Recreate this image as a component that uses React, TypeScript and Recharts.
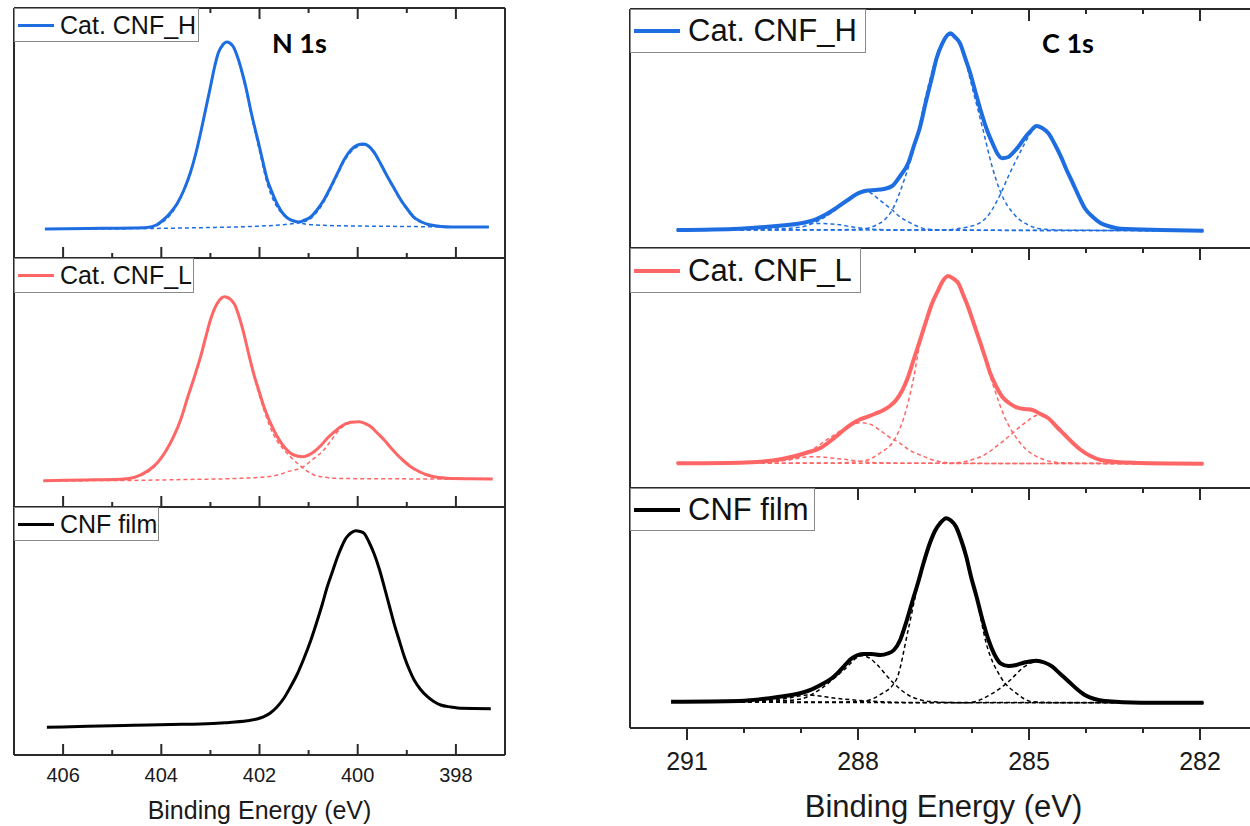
import React from 'react'
import { LineChart, Line, XAxis, YAxis, Legend, ReferenceLine, ReferenceArea } from 'recharts'

type Pt = [number, number]

// axis ticks (binding energy, eV)
const n1sTicks = [406, 405, 404, 403, 402, 401, 400, 399, 398]
const n1sMajor = [406, 404, 402, 400, 398]
const c1sTicks = [291, 290, 289, 288, 287, 286, 285, 284, 283, 282]
const c1sMajor = [291, 288, 285, 282]

// ---- N 1s, Cat. CNF_H ----
const n1sHTotal: Pt[] = [
  [406.37, 29], [405.5, 29.5], [404.6, 30], [404.29, 30.5], [404.1, 33], [403.96, 38], [403.8, 46],
  [403.67, 55], [403.54, 68], [403.41, 85], [403.3, 104], [403.2, 125], [403.1, 148], [403.0, 171],
  [402.92, 190], [402.84, 205], [402.75, 213], [402.67, 216], [402.6, 215], [402.53, 211], [402.44, 200],
  [402.35, 185], [402.26, 167], [402.18, 148], [402.09, 129], [402.0, 111], [401.92, 94], [401.84, 78],
  [401.73, 64], [401.63, 53], [401.53, 45], [401.43, 40], [401.3, 37], [401.2, 36], [401.08, 38],
  [400.96, 41], [400.83, 48], [400.69, 58], [400.55, 71], [400.41, 85], [400.28, 98], [400.14, 108],
  [400.0, 113], [399.88, 114], [399.78, 112], [399.67, 106], [399.53, 94], [399.39, 81], [399.25, 69],
  [399.12, 58], [398.99, 49], [398.86, 41], [398.7, 36], [398.51, 33], [398.3, 31.5], [398.1, 31],
  [397.7, 31], [397.33, 31],
]
const n1sHPeak1: Pt[] = [
  [406.37, 29], [404.3, 30], [404.0, 35], [403.8, 44], [403.67, 54], [403.41, 84], [403.2, 124],
  [403.0, 170], [402.84, 204], [402.67, 215], [402.53, 210], [402.35, 183], [402.18, 146], [402.0, 107],
  [401.84, 74], [401.7, 56], [401.55, 45], [401.4, 39], [401.2, 35.3], [401.0, 33.5], [400.6, 32.5],
  [400.0, 32], [399.0, 31.5], [398.0, 31], [397.33, 31],
]
const n1sHPeak2: Pt[] = [
  [406.37, 29], [404.3, 29.5], [403.0, 30.5], [402.2, 31.5], [401.6, 33], [401.2, 35.3], [401.0, 38],
  [400.83, 46], [400.69, 56], [400.55, 69], [400.41, 83], [400.28, 96], [400.14, 106], [400.0, 111.5],
  [399.88, 113], [399.78, 111], [399.67, 105], [399.53, 93], [399.39, 80], [399.25, 68], [399.12, 57],
  [398.99, 48], [398.86, 40], [398.7, 35.5], [398.51, 32.5], [398.1, 31], [397.33, 31],
]

// ---- N 1s, Cat. CNF_L ----
const n1sLTotal: Pt[] = [
  [406.4, 26.3], [405.6, 27], [404.84, 27.7], [404.6, 29], [404.43, 32], [404.25, 37], [404.09, 43.7],
  [403.92, 55], [403.75, 70.3], [403.6, 88], [403.48, 107], [403.34, 128], [403.2, 150.3], [403.1, 169],
  [403.0, 187], [402.86, 203.7], [402.71, 210.3], [402.52, 203.7], [402.42, 191], [402.32, 173.7],
  [402.22, 153], [402.12, 133.7], [402.01, 116], [401.91, 100.3], [401.71, 77], [401.5, 60.3],
  [401.3, 52], [401.13, 50.3], [400.89, 55.3], [400.75, 61.5], [400.62, 68.7], [400.48, 75],
  [400.35, 80.3], [400.14, 84.7], [399.97, 85.3], [399.85, 83.5], [399.73, 80.3], [399.6, 74],
  [399.46, 67], [399.32, 59], [399.19, 52], [399.05, 45.5], [398.92, 40.3], [398.75, 35.5],
  [398.58, 32], [398.17, 28.7], [397.7, 28.2], [397.25, 28],
]
const n1sLPeak1: Pt[] = [
  [406.4, 26.3], [404.84, 27.3], [404.43, 31], [404.09, 43], [403.75, 70], [403.48, 106.5], [403.2, 150],
  [403.0, 186.5], [402.86, 203], [402.71, 209.5], [402.52, 203], [402.32, 173], [402.12, 132],
  [401.91, 97], [401.71, 72], [401.5, 57], [401.3, 47], [401.13, 39.7], [400.89, 32], [400.7, 30],
  [400.48, 28.7], [399.5, 28.2], [397.25, 28],
]
const n1sLPeak2: Pt[] = [
  [406.4, 26.3], [404.84, 26.5], [403.5, 27.5], [402.5, 28.5], [401.84, 30.3], [401.6, 32.5],
  [401.43, 35.3], [401.13, 39.7], [400.89, 48.7], [400.69, 57], [400.55, 66], [400.35, 78.5],
  [400.14, 84], [399.97, 85], [399.73, 80], [399.46, 66.5], [399.19, 51.5], [398.92, 40],
  [398.75, 35], [398.58, 31.5], [398.17, 28.5], [397.25, 28],
]

// ---- N 1s, CNF film ----
const n1sFilmTotal: Pt[] = [
  [406.33, 27.7], [405.5, 28.7], [404.57, 29.7], [403.8, 30.5], [403.2, 31], [402.7, 32.3], [402.25, 34.3],
  [402.05, 36], [401.91, 38.3], [401.78, 42], [401.64, 48.3], [401.5, 57], [401.37, 68], [401.23, 81],
  [401.1, 96], [400.96, 114], [400.82, 135], [400.72, 151], [400.62, 168.3], [400.51, 184],
  [400.41, 198.3], [400.32, 209], [400.24, 216.7], [400.14, 222], [400.04, 224.3], [399.95, 223.5],
  [399.87, 221.7], [399.77, 213], [399.67, 201.7], [399.56, 186], [399.46, 168.3], [399.36, 150],
  [399.26, 131.7], [399.15, 114], [399.05, 98.3], [398.95, 85.5], [398.85, 75], [398.72, 65.5],
  [398.58, 58.3], [398.45, 53.5], [398.31, 50], [398.1, 48], [397.9, 46.7], [397.29, 46.3],
]

// ---- C 1s, Cat. CNF_H ----
const c1sHTotal: Pt[] = [
  [291.18, 18], [290.08, 19.3], [289.38, 22.3], [289.03, 24.5], [288.74, 28.7], [288.55, 34],
  [288.39, 39.7], [288.18, 48], [287.97, 55.3], [287.83, 57.5], [287.69, 58], [287.55, 59], [287.4, 62],
  [287.26, 72], [287.12, 84.7], [287.02, 102], [286.91, 121.3], [286.81, 146], [286.7, 171.3],
  [286.62, 190], [286.52, 204.7], [286.38, 214.7], [286.3, 211], [286.21, 204.7], [286.12, 190],
  [286.03, 174.7], [285.94, 156], [285.85, 138], [285.75, 120], [285.64, 104.7], [285.55, 94],
  [285.47, 89.7], [285.36, 91], [285.29, 94.7], [285.15, 104], [285.08, 109.7], [284.97, 117],
  [284.87, 122], [284.77, 120], [284.66, 114.7], [284.55, 104], [284.44, 91.3], [284.34, 78],
  [284.23, 64.7], [284.12, 51], [284.02, 39.7], [283.88, 31], [283.74, 24.7], [283.55, 21],
  [283.39, 19.3], [282.68, 18], [281.94, 17.3],
]
const c1sHPeakA: Pt[] = [
  [291.18, 18], [290.08, 18.7], [289.38, 21.3], [288.89, 24.7], [288.46, 24], [287.97, 20], [287.4, 18],
  [281.94, 17.3],
]
const c1sHPeakB: Pt[] = [
  [291.18, 18], [289.5, 19], [289.03, 20.7], [288.67, 28], [288.32, 41.3], [288.11, 50.5], [287.97, 54.7],
  [287.86, 57.3], [287.75, 54], [287.62, 48], [287.4, 38], [287.26, 31], [287.12, 26.3], [286.95, 21.5],
  [286.77, 18.7], [286.4, 18], [281.94, 17.3],
]
const c1sHPeakC: Pt[] = [
  [291.18, 18], [288.5, 18.2], [287.97, 18.7], [287.62, 24.7], [287.4, 38], [287.19, 68], [286.98, 108],
  [286.77, 161.3], [286.56, 201.3], [286.38, 213], [286.17, 198], [286.0, 161.3], [285.82, 121.3],
  [285.64, 80], [285.5, 56], [285.25, 33], [285.01, 23], [284.73, 18.7], [284.3, 17.8], [281.94, 17.3],
]
const c1sHPeakD: Pt[] = [
  [291.18, 18], [286.56, 18], [286.0, 22], [285.71, 33], [285.5, 54], [285.36, 72], [285.25, 85],
  [285.08, 104], [284.97, 115], [284.87, 121], [284.77, 119.5], [284.66, 114.5], [284.44, 91],
  [284.23, 64.5], [284.02, 39.5], [283.74, 24.7], [283.39, 19.3], [282.68, 18], [281.94, 17.3],
]

// ---- C 1s, Cat. CNF_L ----
const c1sLTotal: Pt[] = [
  [291.18, 24.7], [290.08, 25.3], [289.5, 27.5], [289.1, 32], [288.89, 35.5], [288.67, 39.7], [288.53, 45],
  [288.39, 51.3], [288.25, 58], [288.11, 64], [287.97, 68.5], [287.83, 71.3], [287.69, 74.5],
  [287.55, 78], [287.44, 82], [287.33, 88], [287.22, 98], [287.12, 111.3], [287.02, 129], [286.91, 148],
  [286.81, 166], [286.7, 184.7], [286.6, 197], [286.52, 206.3], [286.42, 212], [286.33, 209.5],
  [286.24, 204.7], [286.16, 194], [286.07, 181.3], [285.96, 163], [285.85, 144.7], [285.76, 129],
  [285.68, 114.7], [285.57, 101], [285.47, 91.3], [285.35, 85], [285.22, 80.7], [285.08, 79],
  [284.94, 78], [284.8, 74], [284.66, 69.7], [284.52, 61.5], [284.37, 53], [284.23, 45], [284.09, 38],
  [283.92, 32], [283.74, 28], [283.45, 26], [283.18, 25.3], [282.5, 24.5], [281.94, 24.3],
]
const c1sLPeakA: Pt[] = [
  [291.18, 24.7], [290.08, 24.7], [289.24, 28], [288.81, 31.3], [288.25, 28.7], [287.69, 25.3],
  [287.0, 24.7], [281.94, 24.3],
]
const c1sLPeakB: Pt[] = [
  [291.18, 24.7], [289.73, 25.3], [289.1, 29.7], [288.81, 38], [288.5, 50], [288.2, 60.5], [287.97, 65.3],
  [287.8, 64], [287.62, 58], [287.45, 51], [287.26, 44.7], [287.1, 38], [286.91, 33], [286.56, 26.3],
  [286.21, 24.7], [281.94, 24.3],
]
const c1sLPeakC: Pt[] = [
  [291.18, 24.7], [288.5, 25], [287.97, 26.3], [287.62, 34.7], [287.33, 51.3], [287.19, 71.3],
  [287.02, 111.3], [286.91, 146], [286.7, 184], [286.52, 205.5], [286.42, 211.5], [286.24, 204],
  [286.07, 180.5], [285.85, 144], [285.64, 104.7], [285.43, 71.3], [285.15, 44.7], [284.8, 29.7],
  [284.44, 25.3], [283.5, 24.5], [281.94, 24.3],
]
const c1sLPeakD: Pt[] = [
  [291.18, 24.7], [286.42, 24.7], [285.85, 31.3], [285.43, 48], [285.08, 64.7], [284.83, 73],
  [284.66, 69.7], [284.37, 53], [284.09, 38], [283.74, 28], [283.18, 25.3], [281.94, 24.3],
]

// ---- C 1s, CNF film ----
const c1sFilmTotal: Pt[] = [
  [291.28, 26.3], [290.08, 27], [289.38, 31.3], [289.0, 35], [288.81, 38.7], [288.64, 43.5], [288.46, 49.7],
  [288.29, 59], [288.11, 69.7], [287.9, 74], [287.76, 74], [287.61, 73], [287.48, 74.5], [287.37, 78],
  [287.26, 88], [287.16, 104.7], [287.06, 124], [286.95, 144.7], [286.85, 165], [286.74, 184.7],
  [286.65, 197], [286.56, 204.7], [286.45, 209.7], [286.37, 207.5], [286.28, 201.3], [286.19, 188],
  [286.1, 171.3], [286.02, 152], [285.92, 131.3], [285.82, 109], [285.71, 88], [285.61, 74],
  [285.5, 64.7], [285.36, 62], [285.22, 63], [285.08, 65.5], [284.87, 67.3], [284.73, 65.5],
  [284.59, 61.3], [284.45, 54], [284.3, 46.3], [284.16, 39], [284.02, 33], [283.85, 29], [283.67, 27],
  [283.03, 25.3], [281.94, 25.3],
]
const c1sFilmPeakA: Pt[] = [
  [291.28, 26], [290.08, 26], [289.24, 29.7], [288.89, 33], [288.39, 29.7], [287.83, 27], [287.0, 25.5],
  [281.94, 25.3],
]
const c1sFilmPeakB: Pt[] = [
  [291.28, 26], [289.5, 27], [289.03, 28.7], [288.6, 41.3], [288.25, 58], [287.93, 72.3], [287.8, 70],
  [287.69, 64.7], [287.4, 46.3], [287.12, 33], [286.7, 26.3], [286.21, 25.3], [281.94, 25.3],
]
const c1sFilmPeakC: Pt[] = [
  [291.28, 26], [288.5, 26], [287.97, 26.3], [287.62, 33], [287.33, 48], [287.12, 98], [286.95, 143],
  [286.74, 184], [286.56, 204], [286.45, 209], [286.28, 200.5], [286.1, 170.5], [285.92, 130],
  [285.75, 84.7], [285.5, 51.3], [285.22, 34.7], [284.94, 26.3], [284.5, 25.5], [281.94, 25.3],
]
const c1sFilmPeakD: Pt[] = [
  [291.28, 26], [286.07, 25.3], [285.64, 34.7], [285.36, 46.3], [285.08, 61.3], [284.87, 66.3],
  [284.59, 61], [284.3, 46], [284.02, 33], [283.67, 27], [283.03, 25.3], [281.94, 25.3],
]

const BLUE = '#1e6ee1'
const RED = '#ff6666'
const BLACK = '#000000'
const FRAME = '#2a2a2a'
const FONT = '"Liberation Sans", Arial, sans-serif'

const rows = (pts: Pt[]) => pts.map(([e, v]) => ({ e, v }))

interface Side {
  domain: [number, number]
  ticks: number[]
  major: number[]
  majorLen: number
  minorLen: number
  halfTick: number // half tick width, in eV
  labelSize: number
  labelDy: number
  lineW: number
  legendFont: number
  legendLine: number
  legendLineT: number
  legendGap: number
}

const leftSide: Side = {
  domain: [397, 407], ticks: n1sTicks, major: n1sMajor, majorLen: 11, minorLen: 5, halfTick: 0.02,
  labelSize: 20, labelDy: 27, lineW: 3,
  legendFont: 25, legendLine: 36, legendLineT: 3, legendGap: 6,
}
const rightSide: Side = {
  domain: [281, 292], ticks: c1sTicks, major: c1sMajor, majorLen: 12, minorLen: 5, halfTick: 0.0175,
  labelSize: 25, labelDy: 42, lineW: 4,
  legendFont: 31, legendLine: 46, legendLineT: 4, legendGap: 8,
}

interface PanelProps {
  side: Side
  left: number
  top: number
  width: number
  plotH: number
  color: string
  name: string
  total: Pt[]
  peaks: Pt[][]
  topTicks?: boolean // ticks hanging down from the top edge
  bottomTicks?: boolean // ticks standing up on the bottom edge
  outTicks?: boolean // ticks hanging below the bottom edge
  axisH?: number // >0: visible bottom axis with labels
  title?: string
  titleSize?: number
  titleDy?: number
  legendW: number
  legendH: number
}

function Panel(p: PanelProps) {
  const s = p.side
  const axisH = p.axisH || 0
  const len = (t: number) => (s.major.includes(t) ? s.majorLen : s.minorLen)
  const frame = { stroke: FRAME, strokeWidth: 2 }

  // inside ticks: short two-point series on the energy scale
  const tickLine = (key: string, t: number, v1: number, v2: number) => (
    <Line
      key={key} xAxisId="b" yAxisId="l" data={[{ e: t, v: v1 }, { e: t, v: v2 }]} dataKey="v"
      type="linear" legendType="none" stroke={FRAME} strokeWidth={2} dot={false} activeDot={false}
      isAnimationActive={false}
    />
  )
  // outside ticks (below the plot area)
  const tickArea = (key: string, t: number, y1: number, y2: number) => (
    <ReferenceArea
      key={key} xAxisId="b" yAxisId="l" x1={t - s.halfTick} x2={t + s.halfTick} y1={y1} y2={y2}
      fill={FRAME} fillOpacity={1} stroke="none" ifOverflow="visible"
    />
  )

  const axisLabel = (props: any) => {
    const { x, y, payload } = props
    if (!s.major.includes(payload.value)) return <g />
    return (
      <text x={x} y={y + s.labelDy} textAnchor="middle" fontFamily={FONT} fontSize={s.labelSize} fill="#1a1a1a">
        {payload.value}
      </text>
    )
  }

  const renderLegend = (lp: any) => {
    const item = (lp.payload || []).find((it: any) => it.type !== 'none') || { color: p.color, value: p.name }
    return (
      <div
        style={{
          width: p.legendW, height: p.legendH, boxSizing: 'border-box', border: '1px solid #8a8a8a',
          background: '#fff', display: 'flex', alignItems: 'center', paddingLeft: 3,
          fontFamily: FONT, fontSize: s.legendFont, color: '#111', whiteSpace: 'nowrap',
        }}
      >
        <span style={{ display: 'inline-block', width: s.legendLine, height: s.legendLineT, background: p.color, marginRight: s.legendGap }} />
        <span>{item.value}</span>
      </div>
    )
  }

  const titleLabel = (lp: any) => {
    const vb = lp.viewBox
    return (
      <text x={vb.x + vb.width / 2} y={vb.y + (p.titleDy || 0)} textAnchor="middle" fontFamily={FONT} fontSize={p.titleSize} fill="#1a1a1a">
        {p.title}
      </text>
    )
  }

  return (
    <div style={{ position: 'absolute', left: p.left - 1, top: p.top - 1 }}>
      <LineChart width={p.width + 2} height={p.plotH + axisH + 2} margin={{ top: 1, right: 1, bottom: 1, left: 1 }}>
        <XAxis
          xAxisId="b" type="number" dataKey="e" domain={s.domain} reversed allowDataOverflow
          hide={axisH === 0} ticks={s.ticks} interval={0} height={axisH || 1} tickSize={0} tickMargin={0}
          tick={axisLabel} tickLine={false} axisLine={frame}
          label={p.title ? titleLabel : undefined}
        />
        <YAxis yAxisId="l" type="number" domain={[0, p.plotH]} allowDataOverflow hide />
        <Legend
          layout="horizontal" verticalAlign="middle" align="center"
          wrapperStyle={{ left: 1, top: 1, width: 'auto', height: 'auto' }}
          content={renderLegend}
        />
        {/* frame */}
        <ReferenceLine xAxisId="b" yAxisId="l" y={0} {...frame} />
        <ReferenceLine xAxisId="b" yAxisId="l" y={p.plotH} {...frame} />
        <ReferenceLine xAxisId="b" yAxisId="l" x={s.domain[1]} {...frame} />
        <ReferenceLine xAxisId="b" yAxisId="l" x={s.domain[0]} {...frame} />
        {p.outTicks && s.ticks.map((t) => tickArea(`o${t}`, t, -len(t), 0))}
        <Line
          xAxisId="b" yAxisId="l" data={rows(p.total)} dataKey="v" name={p.name} type="monotone"
          stroke={p.color} strokeWidth={s.lineW} dot={false} activeDot={false} isAnimationActive={false}
        />
        {p.peaks.map((pk, i) => (
          <Line
            key={i} xAxisId="b" yAxisId="l" data={rows(pk)} dataKey="v" name={`peak ${i + 1}`} type="monotone"
            legendType="none" stroke={p.color} strokeWidth={1.5} strokeDasharray="4 3"
            dot={false} activeDot={false} isAnimationActive={false}
          />
        ))}
        {/* tick marks inside the frame */}
        {p.topTicks && s.ticks.map((t) => tickLine(`t${t}`, t, p.plotH - len(t), p.plotH))}
        {p.bottomTicks && s.ticks.map((t) => tickLine(`b${t}`, t, 0, len(t)))}
      </LineChart>
    </div>
  )
}

export default function App() {
  return (
    <div style={{ position: 'absolute', left: 0, top: 0, width: 1250, height: 826, overflow: 'hidden', background: '#fff' }}>
      {/* N 1s column */}
      <Panel side={leftSide} left={14} top={8} width={491} plotH={250} color={BLUE} name="Cat. CNF_H"
        total={n1sHTotal} peaks={[n1sHPeak1, n1sHPeak2]} topTicks bottomTicks legendW={185} legendH={34} />
      <Panel side={leftSide} left={14} top={258} width={491} plotH={249} color={RED} name="Cat. CNF_L"
        total={n1sLTotal} peaks={[n1sLPeak1, n1sLPeak2]} bottomTicks legendW={180} legendH={35} />
      <Panel side={leftSide} left={14} top={507} width={491} plotH={248} axisH={69} color={BLACK} name="CNF film"
        total={n1sFilmTotal} peaks={[]} bottomTicks title="Binding Energy (eV)" titleSize={25} titleDy={64}
        legendW={145} legendH={34} />

      {/* C 1s column */}
      <Panel side={rightSide} left={630} top={9} width={627} plotH={239} color={BLUE} name="Cat. CNF_H"
        total={c1sHTotal} peaks={[c1sHPeakA, c1sHPeakB, c1sHPeakC, c1sHPeakD]} topTicks legendW={236} legendH={44} />
      <Panel side={rightSide} left={630} top={248} width={627} plotH={240} color={RED} name="Cat. CNF_L"
        total={c1sLTotal} peaks={[c1sLPeakA, c1sLPeakB, c1sLPeakC, c1sLPeakD]} topTicks legendW={231} legendH={45} />
      <Panel side={rightSide} left={630} top={488} width={627} plotH={240} axisH={96} color={BLACK} name="CNF film"
        total={c1sFilmTotal} peaks={[c1sFilmPeakA, c1sFilmPeakB, c1sFilmPeakC, c1sFilmPeakD]} topTicks outTicks
        title="Binding Energy (eV)" titleSize={31} titleDy={89} legendW={185} legendH={43} />

      <svg width={1250} height={826} style={{ position: 'absolute', left: 0, top: 0, pointerEvents: 'none' }}>
        <text x={272} y={53} fontFamily="Lato, 'Open Sans', sans-serif" fontWeight={700} fontSize={27} fill="#000">N 1s</text>
        <text x={1042} y={53} fontFamily="Lato, 'Open Sans', sans-serif" fontWeight={700} fontSize={27} fill="#000">C 1s</text>
      </svg>
    </div>
  )
}
